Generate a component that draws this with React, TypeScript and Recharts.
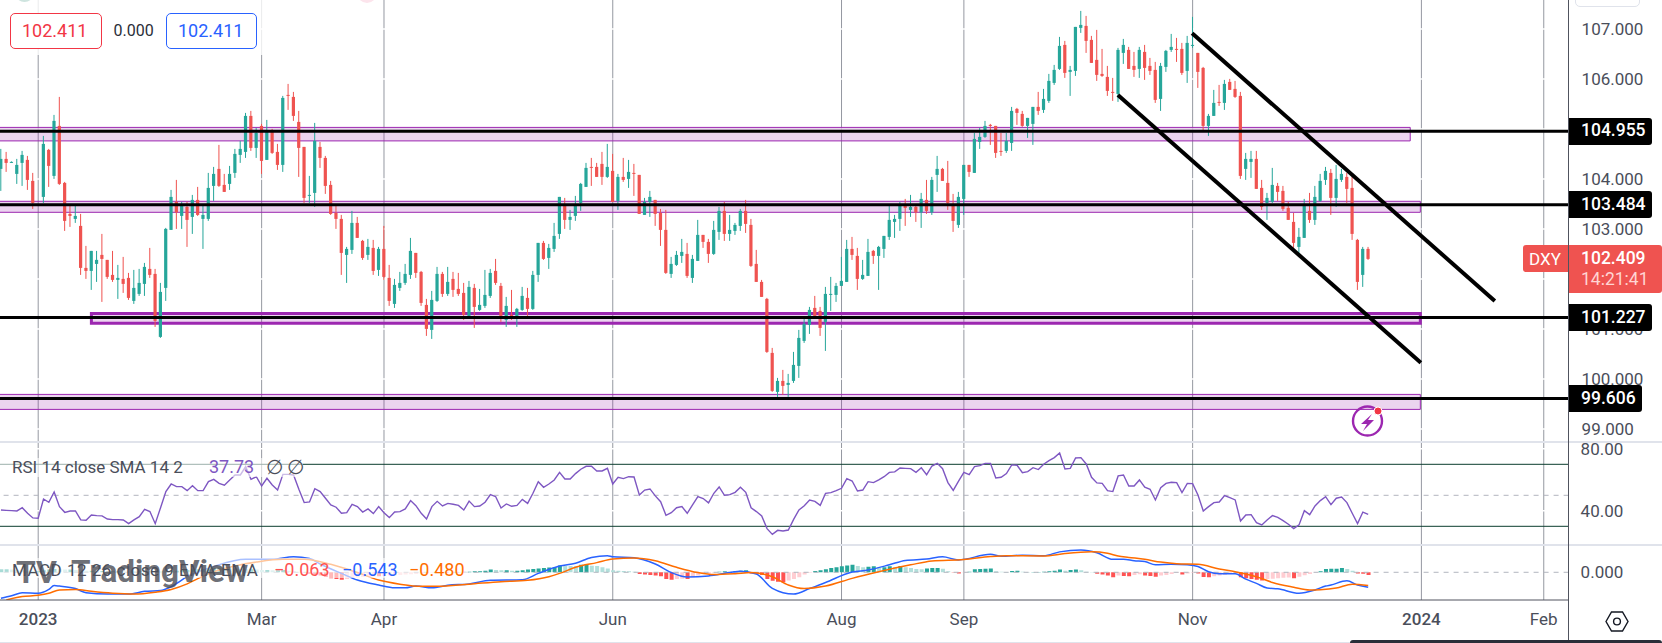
import { Bar, CartesianGrid, Cell, ComposedChart, Line, ReferenceArea, ReferenceLine, XAxis, YAxis } from 'recharts'

const FONT = 'Roboto, sans-serif'
const UP = '#26a69a'
const DOWN = '#ef5350'
const GRID = '#9598a1'
const TEXT = '#4a4e5a'
const PANE = '#e0e3eb'

// daily DXY candles, one slot per session, 7 is empty in the picture
const opens = [
  104.20, 104.40, 104.33, 104.10, 104.32, 104.38, 103.96, null, 103.64, 104.58,
  104.06, 105.06, 103.92, 103.30, 103.20, 103.06, 102.22, 102.16, 102.30, 102.48,
  102.38, 102.08, 101.98, 102.00, 102.02, 101.56, 101.70, 101.90, 102.20, 102.10,
  100.84, 101.82, 102.98, 103.54, 103.26, 103.44, 103.24, 103.58, 103.20, 103.20,
  103.86, 104.20, 103.88, 103.90, 104.12, 104.48, 104.54, 105.26, 104.62, 105.06,
  104.38, 104.94, 104.54, 104.28, 105.68, 105.64, 105.14, 104.64, 103.66, 103.72,
  104.64, 104.42, 103.88, 103.32, 103.20, 102.48, 102.58, 103.12, 102.76, 102.48,
  102.62, 102.18, 102.60, 102.02, 101.50, 101.82, 101.92, 102.08, 102.52, 102.14,
  101.48, 100.98, 101.56, 102.10, 101.70, 102.00, 101.80, 101.72, 101.26, 101.82,
  101.38, 101.46, 101.66, 102.16, 101.86, 101.18, 101.28, 101.26, 101.38, 101.62,
  101.40, 102.08, 102.72, 102.42, 102.60, 102.90, 103.48, 103.18, 103.26, 103.52,
  103.84, 104.24, 104.24, 104.30, 104.04, 104.16, 103.56, 104.04, 104.00, 104.12,
  104.08, 103.28, 103.54, 103.58, 103.32, 102.98, 102.10, 102.28, 102.46, 102.50,
  102.02, 102.36, 102.88, 102.74, 102.50, 102.94, 103.36, 102.90, 102.96, 103.06,
  103.36, 103.08, 102.30, 101.94, 101.60, 100.52, 99.74, 99.96, 99.88, 99.96,
  100.26, 100.76, 101.08, 101.42, 101.36, 101.14, 101.68, 101.68, 101.86, 101.94,
  102.60, 102.46, 102.00, 102.06, 102.56, 102.46, 102.60, 102.84, 103.14, 103.20,
  103.48, 103.38, 103.44, 103.33, 103.58, 103.33, 104.08, 104.20, 103.92, 103.48,
  103.08, 103.60, 104.28, 104.12, 104.74, 104.84, 105.08, 105.06, 104.56, 104.56,
  104.72, 105.40, 105.30, 105.06, 105.10, 105.44, 105.38, 105.56, 105.92, 106.20,
  106.68, 106.14, 106.16, 107.02, 107.06, 106.78, 106.38, 106.10, 106.04, 105.74,
  105.70, 106.52, 106.58, 106.26, 106.20, 106.54, 106.26, 106.18, 105.60, 106.24,
  106.58, 106.60, 106.60, 106.16, 106.66, 106.52, 106.22, 105.06, 105.26, 105.54,
  105.52, 105.94, 105.80, 105.66, 104.20, 104.34, 104.40, 103.82, 103.52, 103.54,
  103.86, 103.76, 103.42, 103.14, 102.64, 102.82, 103.36, 103.18, 103.56, 103.98,
  104.12, 103.62, 103.98, 104.04, 103.82, 102.78, 102.08, 102.60,
]
const highs = [
  104.60, 104.54, 104.35, 104.40, 104.56, 104.46, 104.12, null, 104.86, 104.60,
  105.28, 105.64, 103.94, 103.46, 103.46, 103.30, 102.66, 102.56, 102.56, 102.90,
  102.38, 102.56, 102.28, 102.44, 102.12, 102.18, 102.20, 102.32, 102.62, 102.20,
  101.92, 103.02, 103.78, 103.98, 103.54, 103.54, 103.68, 103.84, 103.46, 104.12,
  104.24, 104.68, 104.10, 104.26, 104.60, 104.76, 105.32, 105.36, 105.02, 105.10,
  105.18, 105.00, 104.70, 105.66, 105.90, 105.74, 105.36, 104.64, 104.06, 105.12,
  104.74, 104.46, 103.96, 103.48, 103.28, 102.64, 103.36, 103.24, 102.78, 102.80,
  102.78, 102.64, 103.06, 102.28, 102.00, 102.14, 102.30, 102.82, 102.52, 102.16,
  101.60, 101.76, 102.24, 102.14, 102.24, 102.14, 102.12, 101.92, 101.96, 101.90,
  101.80, 102.18, 102.20, 102.40, 101.92, 101.64, 101.78, 101.42, 101.84, 101.82,
  102.16, 102.72, 102.76, 102.70, 103.12, 103.64, 103.62, 103.38, 103.66, 103.92,
  104.32, 104.42, 104.32, 104.54, 104.70, 104.50, 104.10, 104.42, 104.38, 104.30,
  104.08, 103.62, 103.76, 103.58, 103.40, 103.38, 102.44, 102.56, 102.80, 102.72,
  102.48, 103.18, 102.88, 102.80, 103.16, 103.44, 103.54, 103.28, 103.12, 103.40,
  103.58, 103.20, 102.58, 101.98, 101.62, 100.62, 100.02, 100.18, 100.10, 100.54,
  100.98, 101.20, 101.44, 101.66, 101.44, 101.84, 102.04, 101.92, 102.44, 102.78,
  102.84, 102.62, 102.38, 102.80, 102.58, 102.66, 102.86, 103.48, 103.28, 103.54,
  103.60, 103.68, 103.46, 103.72, 103.98, 104.04, 104.46, 104.22, 104.36, 103.70,
  103.74, 104.28, 104.28, 104.92, 105.02, 105.16, 105.10, 105.06, 104.92, 104.92,
  105.44, 105.42, 105.36, 105.22, 105.44, 105.74, 105.80, 106.10, 106.28, 106.84,
  106.76, 106.26, 107.04, 107.36, 107.26, 106.86, 106.98, 106.60, 106.26, 106.02,
  106.62, 106.80, 106.64, 106.54, 106.64, 106.68, 106.42, 106.34, 106.32, 106.58,
  106.90, 106.82, 106.72, 106.86, 107.24, 106.52, 106.24, 105.30, 105.78, 105.88,
  105.98, 106.00, 105.96, 105.74, 104.52, 104.56, 104.56, 103.98, 103.72, 104.22,
  103.92, 103.86, 103.54, 103.32, 103.02, 103.60, 103.72, 103.86, 104.10, 104.24,
  104.20, 104.28, 104.20, 104.12, 104.04, 102.80, 102.64, 102.64,
]
const lows = [
  103.76, 104.14, 104.32, 103.90, 103.86, 103.78, 103.40, null, 103.52, 103.84,
  104.00, 103.88, 102.96, 103.04, 103.12, 102.08, 102.00, 101.78, 101.94, 101.54,
  102.00, 101.94, 101.60, 101.72, 101.58, 101.50, 101.66, 101.66, 102.02, 101.04,
  100.82, 101.56, 102.98, 103.00, 103.00, 102.64, 102.90, 103.26, 102.60, 103.16,
  103.56, 103.84, 103.74, 103.78, 104.02, 104.32, 104.42, 104.56, 104.42, 104.10,
  104.38, 104.50, 104.18, 104.14, 105.38, 105.16, 104.04, 103.52, 103.52, 103.44,
  104.22, 103.70, 103.28, 103.00, 102.08, 101.92, 102.50, 102.82, 102.38, 102.38,
  102.08, 102.06, 101.98, 101.46, 101.42, 101.76, 101.88, 102.00, 102.02, 101.46,
  100.86, 100.80, 101.54, 101.64, 101.66, 101.64, 101.66, 101.18, 101.24, 101.02,
  101.36, 101.42, 101.62, 101.88, 101.14, 101.04, 101.18, 101.04, 101.36, 101.26,
  101.38, 101.94, 102.38, 102.20, 102.54, 102.80, 103.00, 102.98, 103.16, 103.36,
  103.84, 103.86, 104.04, 103.88, 104.02, 103.54, 103.38, 103.94, 103.82, 103.66,
  103.30, 103.28, 103.24, 103.06, 102.66, 102.10, 102.02, 102.26, 102.32, 102.02,
  101.92, 102.36, 102.62, 102.32, 102.48, 102.78, 102.76, 102.76, 102.88, 102.96,
  102.92, 102.24, 101.94, 101.64, 100.52, 99.74, 99.64, 99.68, 99.64, 99.92,
  100.02, 100.72, 100.90, 101.26, 100.86, 100.56, 101.36, 101.54, 101.86, 101.94,
  102.38, 101.78, 101.98, 102.06, 102.30, 101.78, 102.42, 102.78, 102.82, 102.96,
  103.06, 103.24, 103.14, 103.02, 103.30, 103.28, 103.74, 103.96, 103.38, 102.94,
  103.02, 103.28, 104.04, 104.12, 104.60, 104.82, 104.68, 104.42, 104.46, 104.52,
  104.56, 105.08, 105.04, 104.82, 104.68, 105.28, 105.32, 105.52, 105.88, 106.18,
  106.02, 105.66, 106.06, 106.92, 106.52, 106.32, 105.96, 106.04, 105.66, 105.56,
  105.54, 106.30, 106.20, 106.04, 106.02, 105.98, 106.08, 105.52, 105.36, 106.14,
  106.54, 106.34, 106.08, 105.92, 106.62, 105.82, 104.96, 104.86, 105.26, 105.46,
  105.38, 105.78, 105.62, 104.00, 103.98, 104.02, 103.80, 103.38, 103.18, 103.52,
  103.56, 103.36, 103.18, 102.62, 102.52, 102.82, 103.12, 103.08, 103.54, 103.88,
  103.28, 103.44, 103.94, 103.52, 102.78, 101.78, 101.84, 102.38,
]
const closes = [
  104.40, 104.32, 104.34, 104.28, 104.48, 103.98, 103.52, null, 104.70, 104.26,
  105.16, 103.90, 103.16, 103.26, 103.26, 102.22, 102.16, 102.56, 102.38, 102.40,
  102.04, 101.98, 102.02, 101.90, 101.62, 101.82, 101.92, 102.24, 102.08, 101.16,
  101.74, 103.00, 103.64, 103.33, 103.46, 103.18, 103.58, 103.28, 103.28, 103.82,
  104.10, 103.86, 103.74, 104.10, 104.50, 104.60, 105.26, 104.62, 104.92, 104.36,
  104.94, 104.52, 104.28, 105.62, 105.66, 105.26, 104.62, 103.62, 103.68, 104.76,
  104.42, 103.86, 103.30, 103.20, 102.52, 102.60, 103.12, 102.82, 102.42, 102.64,
  102.16, 102.60, 102.04, 101.56, 101.88, 101.92, 102.10, 102.56, 102.12, 101.52,
  101.00, 101.58, 102.10, 101.70, 101.94, 101.78, 101.70, 101.28, 101.84, 101.44,
  101.48, 101.68, 102.12, 101.92, 101.26, 101.46, 101.24, 101.40, 101.66, 101.40,
  102.08, 102.72, 102.40, 102.62, 102.86, 103.64, 103.18, 103.24, 103.46, 103.90,
  104.22, 104.22, 104.04, 104.04, 104.24, 103.54, 104.04, 103.98, 104.14, 104.10,
  103.30, 103.54, 103.64, 103.30, 102.98, 102.12, 102.30, 102.48, 102.54, 102.06,
  102.40, 102.88, 102.74, 102.50, 102.98, 103.36, 102.90, 102.98, 103.08, 103.36,
  103.10, 102.26, 101.94, 101.64, 100.54, 99.76, 99.96, 99.86, 99.92, 100.28,
  100.82, 101.10, 101.38, 101.26, 101.02, 101.70, 101.70, 101.86, 101.96, 102.60,
  102.48, 102.00, 102.08, 102.54, 102.46, 102.64, 102.86, 103.18, 103.20, 103.48,
  103.42, 103.44, 103.33, 103.60, 103.36, 103.98, 104.20, 103.96, 103.52, 103.16,
  103.64, 104.28, 104.14, 104.80, 104.84, 105.06, 105.06, 104.52, 104.54, 104.76,
  105.36, 105.32, 105.06, 105.22, 105.44, 105.36, 105.60, 105.96, 106.18, 106.66,
  106.12, 106.18, 107.04, 107.08, 106.76, 106.32, 106.08, 106.06, 105.76, 105.72,
  106.58, 106.68, 106.20, 106.18, 106.58, 106.22, 106.16, 105.58, 106.26, 106.56,
  106.64, 106.58, 106.12, 106.72, 106.68, 106.14, 105.06, 105.26, 105.52, 105.52,
  105.90, 105.78, 105.64, 104.06, 104.40, 104.40, 103.80, 103.44, 103.62, 103.88,
  103.74, 103.40, 103.18, 102.72, 102.84, 103.50, 103.18, 103.64, 103.96, 104.16,
  103.62, 104.00, 104.10, 103.80, 102.90, 101.94, 102.60, 102.40,
]

const rsi = [
  40.5, 40.3, 40.1, 39.9, 42.0, 38.4, 35.4, 35.2, 47.6, 45.5,
  52.2, 42.7, 39.0, 39.9, 39.9, 34.1, 33.9, 37.3, 36.9, 36.7,
  34.7, 34.3, 34.3, 34.1, 31.7, 34.1, 36.2, 41.0, 39.5, 31.7,
  42.0, 52.4, 57.3, 55.6, 55.6, 53.0, 56.2, 53.0, 53.0, 58.8,
  60.3, 57.7, 56.5, 59.9, 63.1, 63.1, 68.5, 60.3, 62.0, 56.0,
  61.0, 56.7, 53.4, 63.5, 63.5, 63.1, 53.9, 45.3, 45.7, 54.3,
  52.4, 48.1, 43.8, 42.3, 38.4, 38.8, 44.2, 42.7, 39.2, 41.2,
  38.2, 42.7, 38.8, 35.6, 39.2, 39.5, 41.2, 46.6, 43.3, 38.4,
  34.7, 42.7, 46.1, 43.1, 44.8, 44.2, 43.5, 40.5, 46.3, 42.7,
  43.1, 45.5, 50.4, 49.1, 41.8, 44.4, 42.9, 43.5, 47.4, 44.8,
  51.3, 58.8, 55.2, 57.3, 59.9, 64.8, 60.5, 60.5, 64.0, 66.8,
  68.7, 68.7, 65.7, 65.7, 67.4, 57.3, 61.6, 60.8, 62.0, 61.8,
  50.2, 53.4, 54.1, 49.6, 45.9, 37.1, 38.8, 42.0, 42.7, 38.4,
  43.8, 49.1, 47.9, 45.1, 51.3, 55.4, 50.0, 50.4, 51.9, 55.2,
  51.9, 42.0, 39.5, 36.7, 28.5, 24.8, 27.4, 27.0, 27.6, 34.5,
  40.5, 43.3, 47.0, 46.1, 43.5, 51.3, 51.7, 53.0, 54.5, 60.8,
  59.2, 52.8, 53.4, 58.8, 58.2, 59.9, 62.0, 64.8, 65.1, 67.6,
  67.4, 67.2, 64.8, 67.8, 63.3, 68.9, 70.6, 67.2, 58.2, 53.2,
  59.2, 64.8, 63.3, 68.5, 69.1, 70.6, 70.6, 61.2, 61.6, 64.0,
  69.6, 69.4, 64.6, 65.3, 67.8, 66.6, 70.0, 72.4, 74.3, 77.3,
  67.0, 67.4, 74.1, 74.3, 70.2, 61.6, 58.0, 57.7, 53.0, 52.4,
  62.5, 63.1, 56.0, 56.0, 59.9, 55.2, 53.9, 47.0, 54.9, 57.7,
  58.4, 58.2, 51.7, 57.7, 57.5, 50.2, 39.9, 42.7, 45.3, 45.7,
  49.8, 48.5, 47.0, 33.4, 37.3, 37.5, 32.4, 30.9, 34.1, 36.9,
  35.8, 33.7, 31.3, 28.5, 30.9, 40.1, 37.5, 43.1, 46.6, 49.1,
  44.0, 48.1, 48.9, 45.3, 38.4, 31.7, 39.2, 37.73,
]

const macdHist = [
  .11, .11, .10, .08, .07, .06, .05, .05, .07, .10,
  .12, .11, .10, .10, .08, .07, .06, .06, .05, .05,
  .04, .04, .04, .02, .02, .02, .04, .05, .04, .02,
  .02, .04, .05, .06, .07, .08, .10, .11, .12, .14,
  .16, .17, .16, .14, .13, .12, .11, .11, .10, .08,
  .08, .07, .07, .08, .06, .04, .01, -.01, -.05, -.08,
  -.12, -.17, -.22, -.24, -.27, -.24, -.22, -.19, -.17, -.16,
  -.14, -.14, -.13, -.12, -.11, -.10, -.08, -.07, -.06, -.05,
  -.04, -.02, -.01, -.01, 0, .01, .01, .02, .02, .04,
  .04, .06, .10, .08, .07, .07, .06, .06, .07, .10,
  .12, .14, .16, .17, .18, .25, .24, .23, .22, .27,
  .28, .24, .23, .18, .14, .07, .06, .05, .04, .02,
  -.06, -.08, -.10, -.12, -.14, -.24, -.27, -.24, -.23, -.24,
  -.18, -.12, -.06, -.04, -.02, .02, .04, .02, .05, .06,
  .07, -.04, -.06, -.10, -.24, -.31, -.34, -.36, -.30, -.24,
  -.18, -.08, -.02, .05, .07, .11, .16, .18, .22, .25,
  .27, .23, .18, .20, .22, .17, .18, .22, .18, .23,
  .18, .16, .12, .11, .14, .16, .16, .13, .04, -.01,
  -.04, -.01, .02, .11, .12, .13, .14, .04, .02, .01,
  .05, .06, .02, .01, .01, .01, .02, .04, .06, .10,
  .06, .08, .10, .07, .02, .01, -.05, -.08, -.12, -.18,
  -.12, -.13, -.14, -.10, -.07, -.12, -.13, -.16, -.12, -.10,
  -.06, -.02, -.08, -.04, -.02, -.04, -.17, -.18, -.14, -.12,
  -.10, -.06, -.04, -.18, -.22, -.24, -.27, -.30, -.24, -.23,
  -.22, -.20, -.19, -.22, -.16, -.11, -.06, -.01, .04, .12,
  .13, .13, .16, .12, .06, -.04, -.05, -.10,
]

// [session, value] read at the turning points of the two smooth lines
const macdLine = [
  [0, -.94], [2, -.85], [4, -.74], [7, -.76], [9, -.62], [10, -.48], [11, -.50], [14, -.59], [16, -.74], [20, -.79],
  [24, -.79], [27, -.69], [30, -.66], [32, -.52], [35, -.16], [40, .21], [46, .47], [51, .47], [55, .56], [58, .50],
  [60, .30], [64, -.04], [67, -.28], [71, -.46], [74, -.56], [76, -.56], [78, -.50], [81, -.56], [84, -.47], [88, -.42],
  [92, -.29], [98, -.27], [101, -.04], [105, .23], [108, .33], [111, .54], [114, .60], [115, .56], [119, .53], [123, .30],
  [126, -.01], [129, -.17], [133, -.13], [137, -.01], [139, .04], [142, -.06], [145, -.58], [149, -.79], [152, -.59], [155, -.37],
  [160, .01], [163, .08], [167, .27], [170, .43], [174, .48], [177, .56], [180, .45], [186, .65], [188, .58], [192, .62],
  [196, .60], [199, .74], [203, .81], [206, .71], [209, .47], [211, .47], [213, .42], [215, .39], [217, .27], [220, .29],
  [223, .27], [225, .21], [227, .02], [229, -.05], [232, -.05], [234, -.25], [236, -.40], [238, -.57], [240, -.60], [244, -.76],
  [247, -.64], [249, -.50], [250, -.46], [253, -.31], [255, -.46], [257, -.543],
]
const signalLine = [
  [1, -1.0], [4, -.88], [7, -.83], [9, -.76], [11, -.64], [14, -.62], [17, -.69], [21, -.76], [25, -.79], [29, -.72],
  [32, -.62], [35, -.42], [37, -.23], [40, .02], [44, .23], [48, .37], [53, .47], [57, .47], [62, .29], [67, -.01],
  [71, -.28], [75, -.43], [79, -.51], [82, -.51], [88, -.43], [94, -.34], [99, -.29], [103, -.16], [105, -.04], [108, .18],
  [112, .35], [115, .48], [119, .52], [123, .42], [127, .18], [131, -.01], [134, -.08], [138, -.05], [141, -.01], [145, -.16],
  [148, -.46], [151, -.59], [155, -.50], [160, -.22], [165, .02], [171, .27], [175, .41], [181, .46], [186, .57], [189, .60],
  [196, .59], [200, .68], [205, .74], [208, .69], [210, .59], [212, .54], [215, .47], [218, .37], [221, .31], [225, .29],
  [229, .12], [232, .02], [236, -.16], [239, -.37], [243, -.54], [246, -.64], [248, -.63], [251, -.57], [254, -.43], [257, -.48],
]

const timeTicks = [7, 49, 72, 115, 158, 181, 224, 267, 290]
const timeLabels = ['2023', 'Mar', 'Apr', 'Jun', 'Aug', 'Sep', 'Nov', '2024', 'Feb']
const priceTicks = [99, 100, 101, 102, 103, 104, 105, 106, 107]
const rsiTicks = [40, 80]
const rsiLevels = [30, 70]

const priceLevels = [104.955, 103.484, 101.227, 99.606]
const zoneTops = [105.03, 103.552, 101.31, 99.69]
const zoneBottoms = [104.76, 103.332, 101.114, 99.39]
const zoneStarts = [-1, -1, 17, -1]
const zoneEnds = [264.9, 266.8, 266.8, 266.8]
const zoneWidths = [1, 1, 3, 1]

const channelUpper = [{ x: 223.9, y: 106.912 }, { x: 280.8, y: 101.558 }]
const channelLower = [{ x: 209.95, y: 105.678 }, { x: 266.9, y: 100.324 }]

const WIDTH = 1662
const AXIS_W = 93.4
const X_DOMAIN = [-0.18, 294.67]
const PRICE_DOMAIN = [98.758, 107.578]
const MAIN_H = 441

const priceRows = opens.map((open, bar) => ({
  bar,
  open,
  close: closes[bar],
  high: highs[bar],
  low: lows[bar],
  range: open == null ? null : [lows[bar], highs[bar]],
}))
const rsiRows = rsi.map((value, bar) => ({ bar, value }))
const macdRows = macdHist.map((hist, bar) => ({
  bar,
  hist,
  macd: macdLine.find((p) => p[0] === bar)?.[1] ?? null,
  signal: signalLine.find((p) => p[0] === bar)?.[1] ?? null,
}))

function histColor(i: number) {
  const v = macdHist[i]
  const prev = i > 0 ? macdHist[i - 1] : v
  if (v >= 0) return v >= prev ? UP : '#b2dfdb'
  return v <= prev ? '#ff5252' : '#ffcdd2'
}

function Candle(props: any) {
  const { x, y, width, height, payload } = props
  if (payload.open == null) return null
  const unit = height / (payload.high - payload.low)
  const mid = x + width / 2
  const fill = payload.close >= payload.open ? UP : DOWN
  const top = y + (payload.high - Math.max(payload.open, payload.close)) * unit
  const body = Math.max(Math.abs(payload.open - payload.close) * unit, 1)
  return (
    <g>
      <rect x={mid - 0.5} y={y} width={1} height={height} fill={fill} />
      <rect x={mid - 1.6} y={top} width={3.2} height={body} fill={fill} />
    </g>
  )
}

function TimeTick(props: any) {
  const { x, y, payload } = props
  const label = timeLabels[timeTicks.indexOf(payload.value)]
  const year = label.length === 4
  return (
    <text x={x} y={y} dy={23} textAnchor="middle" fontFamily={FONT} fontSize={17} fontWeight={year ? 500 : 400} fill={TEXT}>
      {label}
    </text>
  )
}

const axisTick = { fontFamily: FONT, fontSize: 17, fill: TEXT }

function priceY(v: number) {
  return ((PRICE_DOMAIN[1] - v) / (PRICE_DOMAIN[1] - PRICE_DOMAIN[0])) * MAIN_H
}

function Txt({ x, y, color, size = 17, weight = 400, spacing = 0, children }: any) {
  return (
    <span
      style={{
        position: 'absolute',
        left: x,
        top: y,
        transform: 'translateY(-50%)',
        color,
        fontSize: size,
        fontWeight: weight,
        letterSpacing: spacing,
        whiteSpace: 'nowrap',
        lineHeight: 1,
      }}
    >
      {children}
    </span>
  )
}

function Box({ x, y, w, h, style }: any) {
  return <div style={{ position: 'absolute', left: x, top: y, width: w, height: h, boxSizing: 'border-box', ...style }} />
}

export default function App() {
  return (
    <div style={{ position: 'absolute', left: 0, top: 0, width: WIDTH, height: 643, overflow: 'hidden', background: '#fff', fontFamily: FONT }}>
      <div style={{ position: 'absolute', left: 0, top: 0 }}>
        <ComposedChart width={WIDTH} height={MAIN_H} data={priceRows} margin={{ top: 0, right: 0, bottom: 0, left: 0 }}>
          <CartesianGrid horizontal={false} verticalValues={timeTicks} stroke={GRID} />
          <CartesianGrid vertical={false} horizontalValues={priceTicks} stroke="#fff" strokeWidth={1.5} />
          <XAxis dataKey="bar" type="number" domain={X_DOMAIN} allowDataOverflow hide />
          <YAxis
            orientation="right"
            width={AXIS_W}
            domain={PRICE_DOMAIN}
            allowDataOverflow
            ticks={priceTicks}
            tickFormatter={(v: number) => v.toFixed(3)}
            tick={axisTick}
            tickSize={0}
            tickMargin={13}
            axisLine={false}
            tickLine={false}
            interval={0}
          />
          <Bar dataKey="range" barSize={3} shape={Candle} isAnimationActive={false} />
          {priceLevels.map((level, i) => (
            <ReferenceArea
              key={level}
              x1={zoneStarts[i]}
              x2={zoneEnds[i]}
              y1={zoneBottoms[i]}
              y2={zoneTops[i]}
              fill="#9c27b0"
              fillOpacity={0.2}
              stroke="#9c27b0"
              strokeWidth={zoneWidths[i]}
              ifOverflow="hidden"
            />
          ))}
          {priceLevels.map((level) => (
            <ReferenceLine key={level} y={level} stroke="#000" strokeWidth={3} />
          ))}
          <ReferenceLine segment={channelUpper} stroke="#000" strokeWidth={4} />
          <ReferenceLine segment={channelLower} stroke="#000" strokeWidth={4} />
        </ComposedChart>
      </div>

      <div style={{ position: 'absolute', left: 0, top: 443 }}>
        <ComposedChart width={WIDTH} height={101} data={rsiRows} margin={{ top: 0, right: 0, bottom: 0, left: 0 }}>
          <CartesianGrid horizontal={false} verticalValues={timeTicks} stroke={GRID} />
          <CartesianGrid vertical={false} horizontalValues={rsiTicks} stroke="#fff" strokeWidth={1.5} />
          <XAxis dataKey="bar" type="number" domain={X_DOMAIN} allowDataOverflow hide />
          <YAxis
            orientation="right"
            width={AXIS_W}
            domain={[18.58, 83.74]}
            allowDataOverflow
            ticks={rsiTicks}
            tickFormatter={(v: number) => v.toFixed(2)}
            tick={axisTick}
            tickSize={0}
            tickMargin={12}
            axisLine={false}
            tickLine={false}
            interval={0}
          />
          {rsiLevels.map((level) => (
            <ReferenceLine key={level} y={level} stroke="#0b3d2e" />
          ))}
          <ReferenceLine y={50} stroke="#b2b5be" strokeDasharray="5 5" />
          <Line dataKey="value" stroke="#7e57c2" strokeWidth={1.4} dot={false} isAnimationActive={false} />
        </ComposedChart>
      </div>

      <div style={{ position: 'absolute', left: 0, top: 545 }}>
        <ComposedChart width={WIDTH} height={98} data={macdRows} margin={{ top: 0, right: 0, bottom: 0, left: 0 }}>
          <CartesianGrid horizontal={false} verticalValues={timeTicks} stroke={GRID} />
          <XAxis
            dataKey="bar"
            type="number"
            domain={X_DOMAIN}
            allowDataOverflow
            ticks={timeTicks}
            tick={TimeTick}
            height={43}
            tickSize={0}
            stroke="#50535e"
            interval={0}
          />
          <YAxis
            orientation="right"
            width={AXIS_W}
            domain={[-1.004, 0.989]}
            allowDataOverflow
            ticks={[0]}
            tickFormatter={(v: number) => v.toFixed(3)}
            tick={axisTick}
            tickSize={0}
            tickMargin={12}
            axisLine={false}
            tickLine={false}
          />
          <ReferenceLine y={0} stroke="#b2b5be" strokeDasharray="5 5" />
          <Bar dataKey="hist" barSize={4} isAnimationActive={false}>
            {macdRows.map((row) => (
              <Cell key={row.bar} fill={histColor(row.bar)} />
            ))}
          </Bar>
          <Line dataKey="macd" type="monotone" connectNulls stroke="#2962ff" strokeWidth={1.5} dot={false} isAnimationActive={false} />
          <Line dataKey="signal" type="monotone" connectNulls stroke="#ff6d00" strokeWidth={1.5} dot={false} isAnimationActive={false} />
        </ComposedChart>
      </div>

      <Box x={0} y={441} w={WIDTH} h={2} style={{ background: PANE }} />
      <Box x={0} y={544} w={WIDTH} h={1.5} style={{ background: PANE }} />
      <Box x={0} y={642} w={WIDTH} h={1} style={{ background: PANE }} />
      <Box x={1568} y={0} w={1.2} h={643} style={{ background: '#50535e' }} />
      <Box x={1350} y={640} w={312} h={6} style={{ background: '#2a2e39', borderRadius: 4 }} />
      <Box x={1575} y={-6} w={65} h={13} style={{ border: `1px solid ${PANE}`, borderRadius: 5 }} />
      <Box x={14.5} y={-17} w={19} h={19} style={{ background: '#0b7a5e', borderRadius: '50%' }} />
      <Box x={357} y={-17} w={20} h={20} style={{ background: '#fce4ec', borderRadius: '50%' }} />

      {/* order line values, top left */}
      <Box x={0} y={0} w={265} h={55} style={{ background: 'rgba(255,255,255,.8)' }} />
      <Box x={10.4} y={13.3} w={91.4} h={35.4} style={{ border: '1px solid #f23645', borderRadius: 5, background: '#fff' }} />
      <Box x={166.4} y={13.3} w={91.1} h={35.4} style={{ border: '1px solid #2962ff', borderRadius: 5, background: '#fff' }} />
      <Txt x={22} y={31} color="#f23645" size={18}>102.411</Txt>
      <Txt x={113.6} y={31} color="#2a2e39" size={16}>0.000</Txt>
      <Txt x={178} y={31} color="#2962ff" size={18}>102.411</Txt>

      {/* price tags on the axis */}
      {priceLevels.map((level, i) => (
        <div
          key={level}
          style={{
            position: 'absolute',
            left: 1569,
            top: priceY(level) - 13.4,
            width: i === 3 ? 73 : 83,
            height: 26.8,
            background: '#000',
            borderRadius: '0 3px 3px 0',
          }}
        />
      ))}
      {priceLevels.map((level) => (
        <Txt key={level} x={1581} y={priceY(level)} color="#fff" weight={500} size={17.5}>{level.toFixed(3)}</Txt>
      ))}
      <Box x={1522.5} y={245} w={45} h={26.7} style={{ background: DOWN, borderRadius: '3px 0 0 3px' }} />
      <Box x={1569} y={245} w={93} h={47.7} style={{ background: DOWN, borderRadius: '0 3px 3px 0' }} />
      <Txt x={1529} y={258.5} color="#fff">DXY</Txt>
      <Txt x={1581} y={258.5} color="#fff" weight={500} size={17.5}>102.409</Txt>
      <Txt x={1581} y={280} color="#ffd5d3" size={17.5}>14:21:41</Txt>

      {/* indicator legends */}
      <Box x={0} y={458} w={303} h={19} style={{ background: 'rgba(255,255,255,.6)' }} />
      <Box x={0} y={558} w={468} h={20} style={{ background: 'rgba(255,255,255,.6)' }} />
      <Txt x={16} y={572} color="rgba(70,72,82,.78)" size={32} weight={700}>TV</Txt>
      <Txt x={71} y={572} color="rgba(70,72,82,.78)" size={31.5} weight={700}>TradingView</Txt>
      <Txt x={12} y={467} color={TEXT} size={17}>RSI 14 close SMA 14 2</Txt>
      <Txt x={209} y={467} color="#7e57c2" size={18}>37.73</Txt>
      <Txt x={266} y={467} color={TEXT} size={20}>∅</Txt>
      <Txt x={287} y={467} color={TEXT} size={20}>∅</Txt>
      <Txt x={12} y={570} color={TEXT} size={17} spacing={0.5}>MACD 12 26 close 9 EMA EMA</Txt>
      <Txt x={274} y={570} color="#ff5252" size={18}>−0.063</Txt>
      <Txt x={342} y={570} color="#2962ff" size={18}>−0.543</Txt>
      <Txt x={409} y={570} color="#ff6d00" size={18}>−0.480</Txt>

      {/* flash badge and settings icon */}
      <svg style={{ position: 'absolute', left: 0, top: 0 }} width={WIDTH} height={643}>
        <circle cx={1367.5} cy={421} r={14.5} fill="none" stroke="#9c27b0" strokeWidth={2.4} />
        <path d="M1372 414 L1361 424 L1367 424 L1363 431 L1374 420 L1368 420 Z" fill="#9c27b0" />
        <circle cx={1378} cy={411} r={4} fill="#f23645" stroke="#fff" strokeWidth={1} />
        <path d="M1606 621.5 L1611.5 612 L1622.5 612 L1628 621.5 L1622.5 631 L1611.5 631 Z" fill="none" stroke="#131722" strokeWidth={1.4} />
        <circle cx={1617} cy={621.5} r={3.4} fill="none" stroke="#131722" strokeWidth={1.4} />
      </svg>
    </div>
  )
}
